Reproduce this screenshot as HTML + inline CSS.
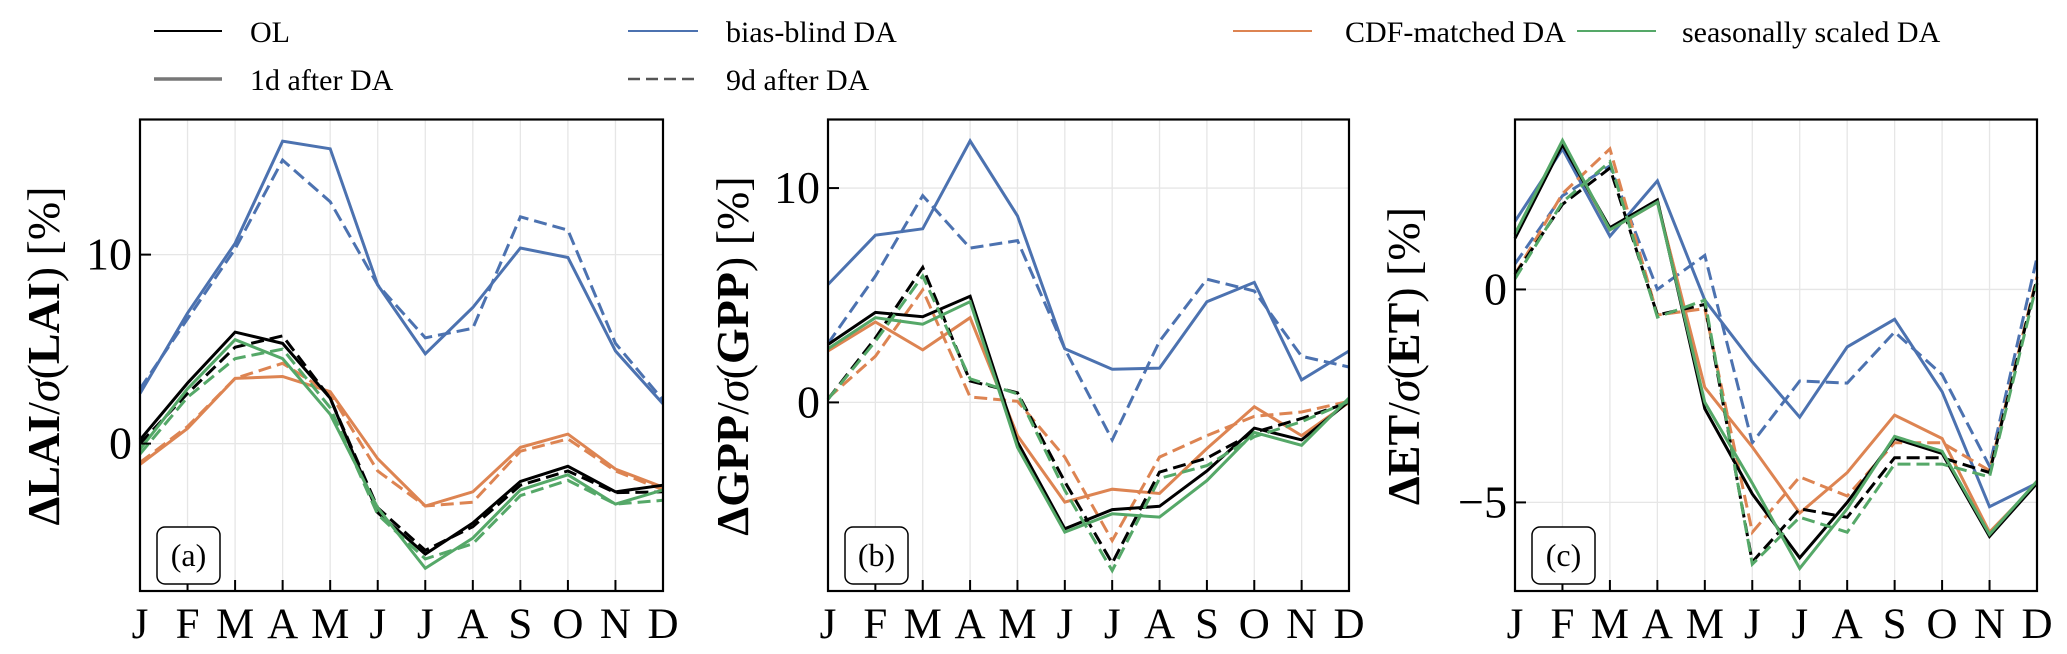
<!DOCTYPE html>
<html><head><meta charset="utf-8"><style>
html,body{margin:0;padding:0;background:#fff;}
svg{display:block;font-family:"Liberation Serif","DejaVu Serif",serif;}
</style></head><body>
<svg id="chart" width="2067" height="654" viewBox="0 0 2067 654" xmlns="http://www.w3.org/2000/svg">
<g id="legend">
  <g><line x1="154" y1="31" x2="222" y2="31" stroke="#000" stroke-width="2"/><text x="250" y="42" font-size="30">OL</text></g>
  <g><line x1="628" y1="31" x2="698" y2="31" stroke="#4C72B0" stroke-width="2"/><text x="726" y="42" font-size="30">bias-blind DA</text></g>
  <g><line x1="1233" y1="31" x2="1312" y2="31" stroke="#DD8452" stroke-width="2"/><text x="1345" y="42" font-size="30">CDF-matched DA</text></g>
  <g><line x1="1577" y1="31" x2="1656" y2="31" stroke="#55A868" stroke-width="2"/><text x="1682" y="42" font-size="30">seasonally scaled DA</text></g>
  <g><line x1="154" y1="79" x2="222" y2="79" stroke="#777" stroke-width="3.5"/><text x="250" y="90" font-size="30">1d after DA</text></g>
  <g><line x1="628" y1="79" x2="698" y2="79" stroke="#555" stroke-width="2.5" stroke-dasharray="12,6"/><text x="726" y="90" font-size="30">9d after DA</text></g>
</g>
</svg>
<script>
const months = ["J","F","M","A","M","J","J","A","S","O","N","D"];
// Panel (a) LAI
const laiBlueSolid  = [2.65,6.9,10.6,16.0,15.6,8.4,4.75,7.2,10.35,9.85,4.9,2.1];
const laiBlueDash   = [2.9,6.6,10.3,15.0,12.8,8.4,5.6,6.1,12.0,11.3,5.3,2.3];
const laiBlackSolid = [0.2,3.2,5.9,5.3,2.4,-3.65,-5.85,-4.2,-2.0,-1.2,-2.55,-2.2];
const laiBlackDash  = [0,2.65,5.1,5.7,2.4,-3.4,-5.65,-4.4,-2.2,-1.45,-2.6,-2.55];
const laiGreenSolid = [-0.3,2.9,5.5,4.5,1.55,-3.4,-6.6,-5.0,-2.45,-1.65,-3.2,-2.45];
const laiGreenDash  = [-0.55,2.45,4.5,5.0,1.9,-3.75,-6.1,-5.3,-2.75,-1.95,-3.2,-3.0];
const laiOrangeSolid= [-1.1,0.8,3.45,3.55,2.75,-0.8,-3.3,-2.55,-0.2,0.5,-1.35,-2.3];
const laiOrangeDash = [-1.0,0.9,3.45,4.25,2.65,-1.45,-3.3,-3.1,-0.4,0.25,-1.45,-2.45];
const laiTicks = [0,10];
// Panel (b) GPP
const gppBlueSolid  = [5.5,7.8,8.1,12.2,8.7,2.5,1.55,1.6,4.7,5.6,1.05,2.4];
const gppBlueDash   = [2.75,5.9,9.65,7.2,7.55,2.5,-1.75,2.85,5.75,5.2,2.15,1.65];
const gppBlackSolid = [2.7,4.2,4.0,4.95,-1.85,-5.9,-5.0,-4.85,-3.2,-1.2,-1.75,0.05];
const gppBlackDash  = [0.15,3.0,6.3,1.0,0.45,-3.7,-7.5,-3.25,-2.6,-1.4,-0.75,0];
const gppGreenSolid = [2.5,3.95,3.65,4.7,-2.1,-6.05,-5.2,-5.35,-3.65,-1.4,-2.0,0.2];
const gppGreenDash  = [0.15,2.85,5.9,1.1,0.4,-4.1,-7.85,-3.55,-2.95,-1.6,-0.9,0.05];
const gppOrangeSolid= [2.4,3.75,2.45,3.95,-1.55,-4.65,-4.05,-4.25,-2.15,-0.2,-1.55,0];
const gppOrangeDash = [0.2,2.15,5.25,0.25,0.05,-2.55,-6.45,-2.55,-1.55,-0.65,-0.45,0.05];
const gppTicks = [0,10];
// Panel (c) ET
const etBlueSolid  = [1.6,3.3,1.25,2.55,-0.25,-1.7,-3.0,-1.35,-0.7,-2.4,-5.1,-4.55];
const etBlueDash   = [0.6,2.2,2.9,0,0.8,-3.6,-2.15,-2.2,-1.0,-2.0,-4.15,0.75];
const etBlackSolid = [1.2,3.4,1.45,2.1,-2.8,-4.8,-6.3,-5.0,-3.5,-3.85,-5.8,-4.55];
const etBlackDash  = [0.35,2.0,2.85,-0.6,-0.35,-6.4,-5.15,-5.35,-3.95,-3.95,-4.3,0.25];
const etGreenSolid = [1.3,3.5,1.4,2.05,-2.65,-4.55,-6.55,-5.15,-3.45,-3.8,-5.75,-4.5];
const etGreenDash  = [0.25,2.05,3.0,-0.65,-0.25,-6.45,-5.35,-5.7,-4.1,-4.1,-4.4,0.15];
const etOrangeSolid= [1.3,3.45,1.4,2.05,-2.3,-3.7,-5.25,-4.3,-2.95,-3.5,-5.7,-4.55];
const etOrangeDash = [0.35,2.25,3.3,-0.6,-0.45,-5.7,-4.4,-4.85,-3.6,-3.6,-4.25,0.3];
const etTicks = [-5,0];

const NS="http://www.w3.org/2000/svg";
const svg=document.getElementById('chart');
function mk(tag,attrs,parent){const e=document.createElementNS(NS,tag);for(const k in attrs)e.setAttribute(k,attrs[k]);parent.appendChild(e);return e;}
const C={black:"#000000",blue:"#4C72B0",orange:"#DD8452",green:"#55A868"};
const TOP=119.5,BOT=591;
function panel(p){
  const g=mk('g',{},svg);
  
  
  const xS=i=>p.x0+(p.x1-p.x0)*i/11;
  const yS=v=>TOP+(p.vmax-v)/(p.vmax-p.vmin)*(BOT-TOP);
  months.forEach((m,i)=>{const l=mk('line',{x1:xS(i),x2:xS(i),y1:TOP,y2:BOT,stroke:"#e6e6e6","stroke-width":1.3},g);
    });
  p.ticks.forEach(t=>{const l=mk('line',{x1:p.x0,x2:p.x1,y1:yS(t),y2:yS(t),stroke:"#e6e6e6","stroke-width":1.3},g);
    });
  const order=[["blue",p.s.blueS,p.s.blueD],["orange",p.s.orangeS,p.s.orangeD],["black",p.s.blackS,p.s.blackD],["green",p.s.greenS,p.s.greenD]];
  order.forEach(([c,sv,dv])=>{
    [[sv,false],[dv,true]].forEach(([arr,dash])=>{
      const pts=arr.map((v,i)=>xS(i).toFixed(1)+","+yS(v).toFixed(1)).join(" ");
      const pl=mk('polyline',{points:pts,fill:"none",stroke:C[c],"stroke-width":3,"stroke-linejoin":"miter"},g);
      if(dash)pl.setAttribute('stroke-dasharray','13,6');
      
      
    });
  });
  const fr=mk('rect',{x:p.x0,y:TOP,width:p.x1-p.x0,height:BOT-TOP,fill:"none",stroke:"#000","stroke-width":2.2},g);
  
  months.forEach((m,i)=>{
    mk('line',{x1:xS(i),x2:xS(i),y1:BOT,y2:BOT-11,stroke:"#000","stroke-width":2},g);
    const t=mk('text',{x:xS(i),y:638,"font-size":43,"text-anchor":"middle"},g);t.textContent=m;
    
  });
  p.ticks.forEach(v=>{
    mk('line',{x1:p.x0,x2:p.x0+11,y1:yS(v),y2:yS(v),stroke:"#000","stroke-width":2},g);
    const t=mk('text',{x:p.x0-8,y:yS(v)+15,"font-size":46,"text-anchor":"end"},g);t.textContent=v<0?"\u2212"+(-v):String(v);
    
  });
  const yl=mk('text',{x:0,y:0,"font-size":46,"text-anchor":"middle",transform:`translate(${p.lx+16},356) rotate(-90)`},g);
  yl.innerHTML=`<tspan font-weight="bold">\u0394${p.v}</tspan>/<tspan font-style="italic">\u03c3</tspan>(<tspan font-weight="bold">${p.v}</tspan>) [%]`;
  
  const bx=p.x0+17;
  const r=mk('rect',{x:bx,y:527,width:63,height:57,rx:8,fill:"#fff",stroke:"#000","stroke-width":1.5},g);
  
  const pt=mk('text',{x:bx+31.5,y:566,"font-size":32,"text-anchor":"middle"},g);pt.textContent=p.tag;
  
}
panel({name:"panel-a-lai",x0:140,x1:663,vmin:-7.8,vmax:17.15,ticks:laiTicks,lx:43,v:"LAI",tag:"(a)",
  s:{blueS:laiBlueSolid,blueD:laiBlueDash,blackS:laiBlackSolid,blackD:laiBlackDash,greenS:laiGreenSolid,greenD:laiGreenDash,orangeS:laiOrangeSolid,orangeD:laiOrangeDash}});
panel({name:"panel-b-gpp",x0:828,x1:1349,vmin:-8.8,vmax:13.2,ticks:gppTicks,lx:732,v:"GPP",tag:"(b)",
  s:{blueS:gppBlueSolid,blueD:gppBlueDash,blackS:gppBlackSolid,blackD:gppBlackDash,greenS:gppGreenSolid,greenD:gppGreenDash,orangeS:gppOrangeSolid,orangeD:gppOrangeDash}});
panel({name:"panel-c-et",x0:1515,x1:2037,vmin:-7.08,vmax:3.99,ticks:etTicks,lx:1403,v:"ET",tag:"(c)",
  s:{blueS:etBlueSolid,blueD:etBlueDash,blackS:etBlackSolid,blackD:etBlackDash,greenS:etGreenSolid,greenD:etGreenDash,orangeS:etOrangeSolid,orangeD:etOrangeDash}});
</script>
</body></html>
